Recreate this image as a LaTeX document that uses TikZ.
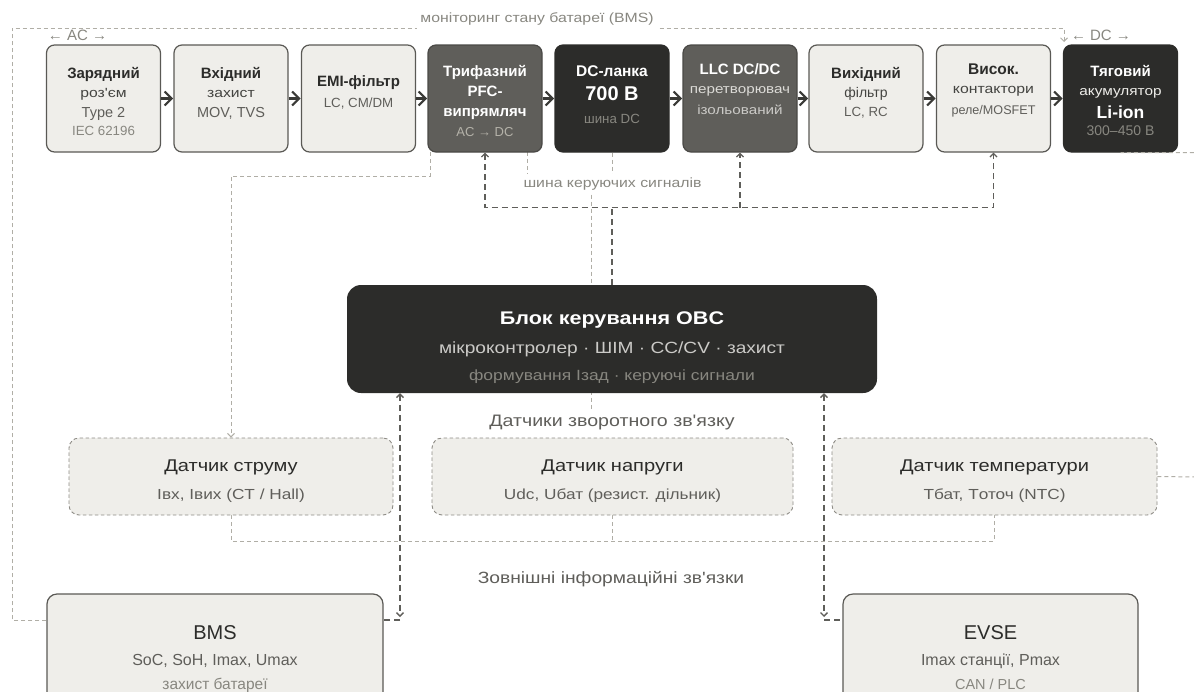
\documentclass[tikz,border=0pt]{standalone}
\usepackage{fontspec}
\setmainfont{Liberation Sans}
\newfontfamily\wf[FakeStretch=1.18]{Liberation Sans}
\usetikzlibrary{arrows.meta,calc}
\definecolor{lightfill}{HTML}{EFEEEA}
\definecolor{bord}{HTML}{5A5955}
\definecolor{midfill}{HTML}{5F5E5A}
\definecolor{midbord}{HTML}{4A4946}
\definecolor{darkfill}{HTML}{2C2C2A}
\definecolor{tdark}{HTML}{2C2C2A}
\definecolor{tsec}{HTML}{444441}
\definecolor{tmid}{HTML}{5F5E5A}
\definecolor{tgray}{HTML}{888780}
\definecolor{tonmid}{HTML}{B4B2A9}
\definecolor{linelight}{HTML}{B0AEA6}
\definecolor{linedark}{HTML}{5F5E5A}
\definecolor{arrowc}{HTML}{3A3A37}
\newcommand{\fsz}[1]{\fontsize{#1}{#1}\selectfont}
\pgfdeclarelayer{bg}
\pgfsetlayers{bg,main}
\begin{document}
\begin{tikzpicture}[x=1pt,y=-1pt,
  box/.style={rounded corners=8pt, minimum width=114pt, minimum height=107pt, line width=1.2pt, inner sep=0pt},
  lbox/.style={box, fill=lightfill, draw=bord},
  mbox/.style={box, fill=midfill, draw=midbord},
  dbox/.style={box, fill=darkfill, draw=darkfill},
  cbox/.style={rounded corners=14pt, fill=darkfill, inner sep=0pt, minimum width=530pt, minimum height=108pt},
  sbox/.style={rounded corners=10pt, fill=lightfill, draw=linelight!80!black, line width=0.9pt, dash pattern=on 3.5pt off 2.5pt, inner sep=0pt, minimum height=77pt},
  ebox/.style={rounded corners=10pt, fill=lightfill, draw=bord, line width=1.2pt, inner sep=0pt, minimum height=111pt},
  tx/.style={inner sep=0pt, anchor=base, align=center},
  tb/.style={tx, font=\fsz{15}\bfseries},
  tr/.style={tx, font=\wf\fsz{13.3}},
  ts/.style={tx, font=\fsz{13.3}},
  lab/.style={tx, fill=white, inner xsep=3pt, inner ysep=4pt},
  flow/.style={-{Straight Barb[length=7pt,width=14pt]}, line width=2.1pt, draw=arrowc, shorten >=0.3pt},
  dk/.style={draw=linedark, line width=1.3pt, dash pattern=on 6pt off 4pt},
  lt/.style={draw=linelight, line width=1pt, dash pattern=on 4pt off 3pt},
  sa/.tip={Straight Barb[length=3.5pt,width=7pt]}
]
\useasboundingbox (0,0) rectangle (1194,691);
\clip (0,0) rectangle (1194,691);

% ---------- top-row boxes ----------
\node[lbox] (b1) at (103.5,98.5) {};
\node[lbox] (b2) at (231,98.5) {};
\node[lbox] (b3) at (358.5,98.5) {};
\node[mbox] (b4) at (485,98.5) {};
\node[dbox] (b5) at (612,98.5) {};
\node[mbox] (b6) at (740,98.5) {};
\node[lbox] (b7) at (866,98.5) {};
\node[lbox] (b8) at (993.5,98.5) {};
\node[dbox] (b9) at (1120.5,98.5) {};

% ---------- control, sensors, external systems ----------
\node[cbox] (ctrl) at (612,339) {};
\node[sbox, minimum width=324pt] (cur) at (231,476.5) {};
\node[sbox, minimum width=361pt] (volt) at (612.5,476.5) {};
\node[sbox, minimum width=325pt] (tmp) at (994.5,476.5) {};
\node[ebox, minimum width=336pt] (bms) at (215,649.5) {};
\node[ebox, minimum width=295pt] (evse) at (990.5,649.5) {};

% ---------- helper coordinates ----------
\coordinate (mL) at (12,28);
\coordinate (mR) at (1064,28);
\coordinate (pfcL) at (430,152);
\coordinate (pfcR) at (527,152);
\coordinate (pj) at (0,176);
\coordinate (sj) at (0,178);
\coordinate (vj) at (591,178);
\coordinate (vend) at (591,416);
\coordinate (bus) at (0,207.5);
\coordinate (sbus) at (0,541);
\coordinate (redge) at (1199,477);
\coordinate (bmsT) at (400,617);
\coordinate (bmsC) at (400,620);
\coordinate (evT) at (824,617);
\coordinate (evC) at (824,620);
\coordinate (batIn) at (1064,42);

% ---------- light dashed links (behind the boxes) ----------
\begin{pgfonlayer}{bg}
\draw[lt,-{sa}] (bms.west |- bmsC) -| (mL) -- (mR) -- (batIn);
\draw[lt,-{sa}] (pfcL) -- (pfcL |- pj) -| (cur.north);
\draw[lt] (b5.south) -- (b5.south |- sj) -| (vend);
\draw[lt] (pfcR) -- (pfcR |- sj) -- (vj);
\draw[lt] (cur.south) |- (tmp.south |- sbus) -- (tmp.south);
\draw[lt] (volt.south) -- (volt.south |- sbus);
\end{pgfonlayer}

% ---------- labels with white background ----------
\node[lab, font=\wf\fsz{13.4}, text=tgray] (lmon) at (537,22.5) {моніторинг стану батареї (BMS)};
\node[lab, font=\wf\fsz{13.4}, text=tgray] (lbus) at (612.5,187.5) {шина керуючих сигналів};
\node[lab, font=\wf\fsz{16.6}, text=tmid] (lsens) at (612,426.5) {Датчики зворотного зв'язку};
\node[tx, font=\wf\fsz{16.3}, text=tmid] (lext) at (611,583.5) {Зовнішні інформаційні зв'язки};
\node[tx, font=\fsz{15}, text=tgray] (lac) at (77.5,40) {← AC →};
\node[tx, font=\fsz{15}, text=tgray] (ldc) at (1101,40) {← DC →};

% ---------- box texts ----------
\node[tb, text=tdark] (t11) at (103.5,78) {Зарядний};
\node[tr, text=tsec] (t12) at (103.5,97.5) {роз'єм};
\node[tx, font=\fsz{14.5}, text=tmid] (t13) at (103.5,117) {Type 2};
\node[ts, text=tgray] (t14) at (103.5,135.5) {IEC 62196};

\node[tb, text=tdark] (t21) at (231,78) {Вхідний};
\node[tr, text=tsec] (t22) at (231,97.5) {захист};
\node[tx, font=\fsz{14.5}, text=tmid] (t23) at (231,117) {MOV, TVS};

\node[tb, text=tdark] (t31) at (358.5,86) {EMI-фільтр};
\node[ts, text=tmid] (t32) at (358.5,107.5) {LC, CM/DM};

\node[tb, text=white] (t41) at (485,76) {Трифазний};
\node[tb, text=white] (t42) at (485,96) {PFC-};
\node[tb, text=white] (t43) at (485,116) {випрямляч};
\node[tx, font=\fsz{13}, text=tonmid] (t44) at (485,136) {AC → DC};

\node[tx, font=\fsz{15.5}\bfseries, text=white] (t51) at (612,76) {DC-ланка};
\node[tx, font=\fsz{20}\bfseries, text=white] (t52) at (612,100.5) {700 В};
\node[ts, text=tgray] (t53) at (612,123.5) {шина DC};

\node[tb, text=white] (t61) at (740,74.5) {LLC DC/DC};
\node[tx, font=\wf\fsz{12.9}, text=lightfill!92!black] (t62) at (740,93.5) {перетворювач};
\node[tx, font=\wf\fsz{12.9}, text=lightfill!85!black] (t63) at (740,114) {ізольований};

\node[tb, text=tdark] (t71) at (866,78) {Вихідний};
\node[tx, font=\fsz{14}, text=tsec] (t72) at (866,97.5) {фільтр};
\node[ts, text=tmid] (t73) at (866,116.5) {LC, RC};

\node[tx, font=\fsz{15.5}\bfseries, text=tdark] (t81) at (993.5,74.5) {Висок.};
\node[tx, font=\wf\fsz{13.4}, text=tsec] (t82) at (993.5,93.5) {контактори};
\node[tx, font=\fsz{12.6}, text=tmid] (t83) at (993.5,114) {реле/MOSFET};

\node[tb, text=white] (t91) at (1120.5,76) {Тяговий};
\node[tx, font=\wf\fsz{13}, text=lightfill] (t92) at (1120.5,95.5) {акумулятор};
\node[tx, font=\fsz{17.5}\bfseries, text=white] (t93) at (1120.5,118) {Li-ion};
\node[tx, font=\fsz{14}, text=tgray] (t94) at (1120.5,135.5) {300–450 В};

\node[tx, font=\wf\fsz{18.3}\bfseries, text=white] (c1) at (612,324.5) {Блок керування OBC};
\node[tx, font=\wf\fsz{16.2}, text=lightfill!85!black] (c2) at (612,353) {мікроконтролер · ШІМ · CC/CV · захист};
\node[tx, font=\wf\fsz{14.8}, text=tgray] (c3) at (612,380.5) {формування Ізад · керуючі сигнали};

\node[tx, font=\wf\fsz{17}, text=tdark] (s11) at (231,471.5) {Датчик струму};
\node[tx, font=\wf\fsz{14.6}, text=tmid] (s12) at (231,499) {Iвх, Iвих (CT / Hall)};
\node[tx, font=\wf\fsz{17}, text=tdark] (s21) at (612.5,471.5) {Датчик напруги};
\node[tx, font=\wf\fsz{14.6}, text=tmid] (s22) at (612.5,499) {Udc, Uбат (резист. дільник)};
\node[tx, font=\wf\fsz{17}, text=tdark] (s31) at (994.5,471.5) {Датчик температури};
\node[tx, font=\wf\fsz{14.6}, text=tmid] (s32) at (994.5,499) {Tбат, Tоточ (NTC)};

\node[tx, font=\fsz{20}, text=tdark] (e11) at (215,639.5) {BMS};
\node[tx, font=\fsz{16}, text=tmid] (e12) at (215,665.5) {SoC, SoH, Imax, Umax};
\node[tx, font=\fsz{15.5}, text=tgray] (e13) at (215,689) {захист батареї};
\node[tx, font=\fsz{20}, text=tdark] (e21) at (990.5,639.5) {EVSE};
\node[tx, font=\fsz{16}, text=tmid] (e22) at (990.5,665.5) {Imax станції, Pmax};
\node[tx, font=\fsz{14.5}, text=tgray] (e23) at (990.5,689) {CAN / PLC};

% ---------- main power flow ----------
\draw[flow] (b1.east) -- (b2.west);
\draw[flow] (b2.east) -- (b3.west);
\draw[flow] (b3.east) -- (b4.west);
\draw[flow] (b4.east) -- (b5.west);
\draw[flow] (b5.east) -- (b6.west);
\draw[flow] (b6.east) -- (b7.west);
\draw[flow] (b7.east) -- (b8.west);
\draw[flow] (b8.east) -- (b9.west);

% ---------- control bus ----------
\draw[dk] (ctrl.north) -- (ctrl.north |- bus);
\draw[dk,{sa}-{sa}] (b4.south) -- (b4.south |- bus) -- (b8.south |- bus) -- (b8.south);
\draw[dk,-{sa}] (b6.south |- bus) -- (b6.south);

% ---------- external links ----------
\draw[dk,{sa}-{sa}] (ctrl.south -| bmsT) -- (bmsT);
\draw[dk] (bmsC) -- (bmsC -| bms.east);
\draw[dk,{sa}-{sa}] (ctrl.south -| evT) -- (evT);
\draw[dk] (evC) -- (evC -| evse.west);

% ---------- temperature to battery ----------
\draw[lt] (tmp.east) -- (redge) |- (b9.south);
\end{tikzpicture}
\end{document}
